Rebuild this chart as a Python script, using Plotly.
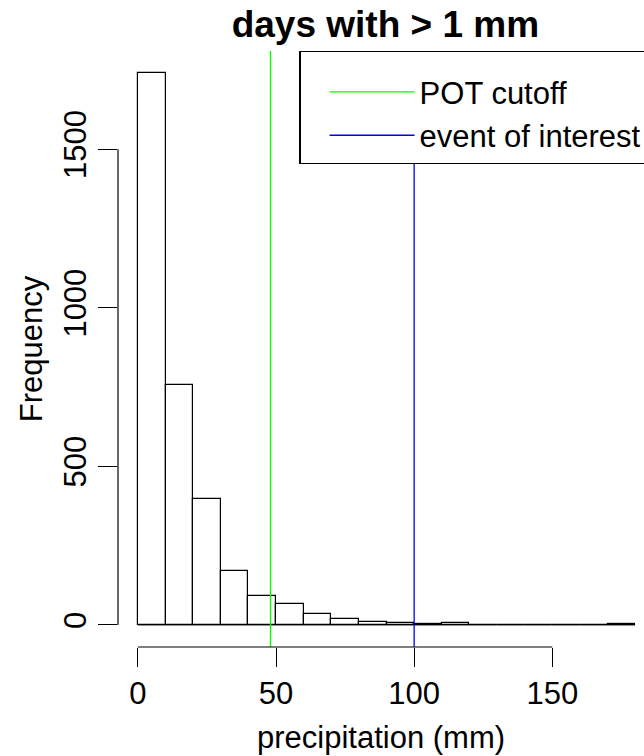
import plotly.graph_objects as go

# ---- data ----
bin_starts = [0, 10, 20, 30, 40, 50, 60, 70, 80, 90, 100, 110, 120, 130, 140, 150, 160, 170]
bin_width = 10
counts = [1740, 756, 398, 170, 92, 66, 33, 20, 10, 6, 3, 7, 0, 0, 0, 0, 0, 2]
pot_cutoff = 48
event_value = 100
x_ticks = [0, 50, 100, 150]
y_ticks = [0, 500, 1000, 1500]

title_text = "days with > 1 mm"
x_title = "precipitation (mm)"
y_title = "Frequency"
legend_names = ["POT cutoff", "event of interest"]

FONT = "Liberation Sans, Arial, Helvetica, sans-serif"

# R-style 4% range extension
ymax = max(counts)
y_lo, y_hi = -0.04 * ymax, ymax * 1.04
x_lo = -0.04 * (bin_starts[-1] + bin_width)

centers = [s + bin_width / 2 for s in bin_starts]

fig = go.Figure()
fig.add_trace(go.Bar(
    x=centers, y=counts, width=[bin_width] * len(centers),
    marker=dict(color="white", line=dict(color="black", width=1.2)),
    showlegend=False, hoverinfo="x+y",
))
# baseline through empty bins
fig.add_trace(go.Scatter(
    x=[bin_starts[0], bin_starts[-1] + bin_width], y=[0, 0], mode="lines",
    line=dict(color="black", width=1), showlegend=False, hoverinfo="skip",
))
fig.add_trace(go.Scatter(
    x=[pot_cutoff, pot_cutoff], y=[y_lo, y_hi], mode="lines",
    line=dict(color="#00ff00", width=1.3), name=legend_names[0],
))
fig.add_trace(go.Scatter(
    x=[event_value, event_value], y=[y_lo, y_hi], mode="lines",
    line=dict(color="#0000ff", width=1.3), name=legend_names[1],
))

# R-style partial axis lines (span first to last tick)
fig.add_shape(type="line", xref="x", yref="paper", x0=x_ticks[0], x1=x_ticks[-1], y0=0, y1=0,
              line=dict(color="black", width=1.2))
fig.add_shape(type="line", xref="paper", yref="y", x0=0, x1=0, y0=y_ticks[0], y1=y_ticks[-1],
              line=dict(color="black", width=1.2))

fig.update_layout(
    width=644, height=756,
    margin=dict(l=118, r=0, t=51, b=109, autoexpand=False),
    plot_bgcolor="white", paper_bgcolor="white",
    font=dict(family=FONT, size=31, color="black"),
    bargap=0,
    title=dict(text="<b>" + title_text + "</b>", font=dict(size=37, color="black", family=FONT),
               xref="container", x=385.4 / 644, xanchor="center",
               yref="container", y=1 - 24 / 756, yanchor="middle"),
    xaxis=dict(range=[x_lo, 183.2], tickvals=x_ticks, ticks="outside", ticklen=19,
               tickwidth=1.2, tickcolor="black", showline=False, showgrid=False, zeroline=False,
               tickfont=dict(size=31, color="black"),
               title=dict(text=x_title, font=dict(size=31, color="black"), standoff=16)),
    yaxis=dict(range=[y_lo, y_hi], tickvals=y_ticks, ticks="outside", ticklen=19,
               tickwidth=1.2, tickcolor="black", showline=False, showgrid=False, zeroline=False,
               tickangle=-90, tickfont=dict(size=31, color="black"),
               title=dict(text=y_title, font=dict(size=31, color="black"), standoff=5)),
    legend=dict(x=(299.3 - 118) / 526, y=1, xanchor="left", yanchor="top",
                bordercolor="black", borderwidth=1.3, bgcolor="white",
                font=dict(size=31, color="black"), itemwidth=85, indentation=24,
                title=dict(text=" ", font=dict(size=10))),
)

fig.write_html("out.html")
